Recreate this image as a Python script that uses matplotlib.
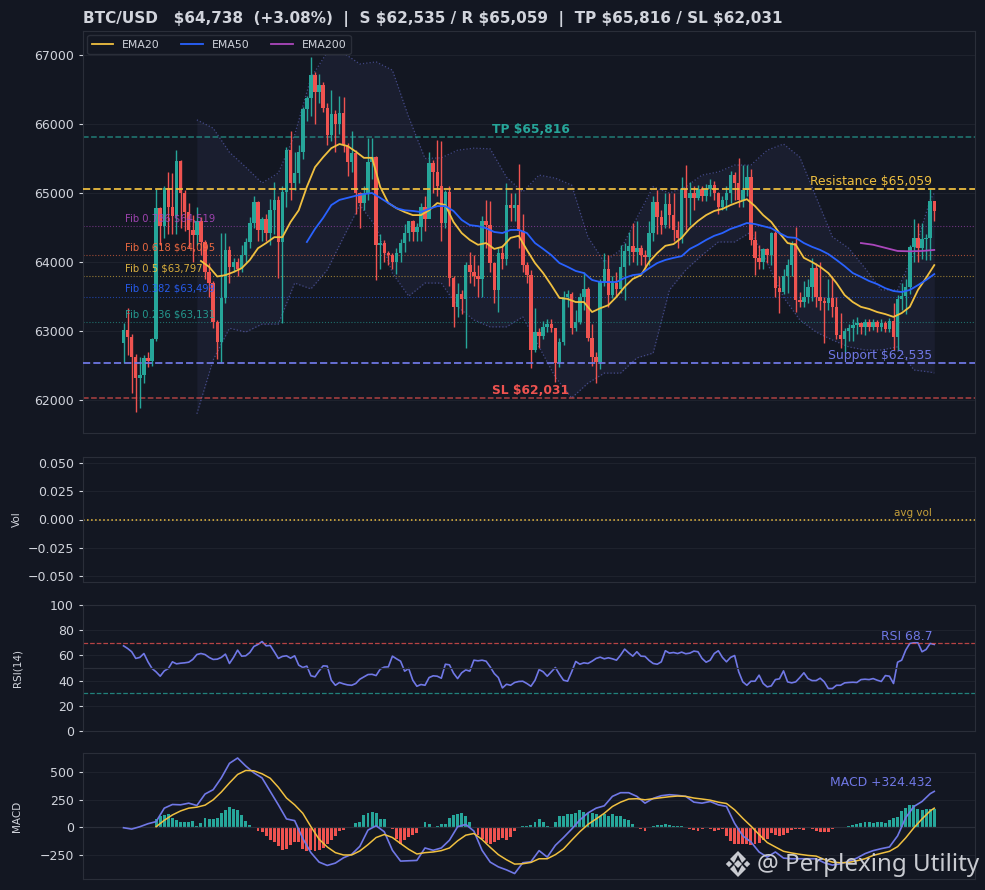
import numpy as np
import matplotlib
matplotlib.use("Agg")
import matplotlib.pyplot as plt
from matplotlib.patches import Polygon

BG = "#131722"
GREEN = "#26a69a"
RED = "#ef5350"
YELLOW = "#f0c040"
BLUE = "#2962ff"
PURPLE = "#ab47bc"
ORANGE = "#ff7043"
INDIGO = "#7078e6"
GRID = "#1e222d"
SPINE = "#2a2e39"
TEXT = "#d1d4dc"

first_open = 62825
closes = [
    63015, 62920, 62623, 62320, 62360, 62610, 62560, 62880, 64780, 64520,
    65070, 64800, 64660, 65460, 65000, 64720, 64460, 64390, 64600, 64290,
    63855, 63695, 63130, 62840, 63480, 64170, 63930, 64000, 63900, 64100,
    64290, 64570, 64870, 64460, 64630, 64420, 64750, 64900, 64290, 65010,
    65620, 65140, 65290, 65590, 66220, 66380, 66710, 66460, 66560, 66230,
    65840, 66150, 66000, 66160, 65700, 65450, 65580, 65000, 64855, 65000,
    65450, 65520, 64250, 64280, 64130, 64100, 64000, 64130, 64270, 64420,
    64590, 64430, 64510, 64800, 64620, 65430, 65300, 65100, 64570, 65010,
    63770, 63350, 63540, 63460, 63960, 63850, 63800, 63750, 64590, 64530,
    63985, 63590, 64130, 64040, 64830, 64780, 64830, 64450, 63960, 63810,
    62725, 62985, 62930, 63060, 63100, 63040, 62535, 62840, 63490, 63535,
    63040, 63130, 63490, 63610, 62900, 62620, 62550, 63710, 63900, 63520,
    63700, 63610, 63930, 64160, 64230, 64140, 64200, 64100, 64070, 64420,
    64870, 64650, 64540, 64840, 64680, 64460, 64350, 65060, 64930, 65000,
    64930, 65060, 64960, 65060, 65120, 65000, 64800, 64900, 65000, 65260,
    65150, 64900, 65050, 65230, 64320, 64060, 64000, 64190, 64100, 64420,
    63620, 63560, 63800, 63950, 64280, 63450, 63420, 63500, 63640, 63915,
    63500, 63440, 63400, 63480, 63350, 62940, 62880, 63000, 63040, 63090,
    63110, 63060, 63130, 63060, 63130, 63060, 63120, 63030, 63150, 62920,
    63460, 63510, 63640, 64220, 64350, 64200, 64330, 64350, 64880, 64738,
]
highs = [
    63110, 63330, 62950, 62660, 62620, 62650, 62700, 62900, 65060, 64800,
    65100, 65300, 65290, 65620, 65480, 65050, 64860, 64680, 64800, 64650,
    64320, 63990, 63720, 63160, 64420, 64420, 64230, 64060, 64060, 64250,
    64350, 64650, 64950, 64880, 64650, 64700, 64920, 65160, 64950, 65100,
    65660, 65900, 65600, 65700, 66240, 66400, 66970, 66760, 66720, 66610,
    66300, 66490, 66200, 66400, 66390, 65720, 65900, 65620, 65020, 65100,
    65800, 65800, 65530, 64400, 64320, 64160, 64130, 64200, 64330, 64550,
    64600, 64610, 64560, 64850, 64960, 65590, 65480, 65770, 65760, 65050,
    65100, 63800, 63700, 63600, 64000, 64140, 64100, 63960, 64660, 64900,
    64880, 64000, 64200, 64250, 65150, 65000, 65000, 65420, 64700, 64000,
    63880, 63330, 63050, 63140, 63180, 63170, 63050, 62900, 63580, 63600,
    63560, 63300, 63550, 63850, 63640, 63100, 62700, 63750, 64130, 64100,
    63800, 63850, 64250, 64280, 64435, 64565, 64590, 64250, 64180, 64600,
    64950, 65040, 64750, 65000, 65000, 65000, 64600, 65230, 65400, 65160,
    65100, 65110, 65100, 65130, 65200, 65180, 65010, 64950, 65100, 65320,
    65300, 65510, 65400, 65400, 65350, 64450, 64250, 64210, 64210, 64430,
    64450, 63800, 63900, 64050, 64310, 64510, 63560, 63720, 63760, 64060,
    63990, 64000, 63500, 63750, 63800, 63500, 63260, 63050, 63100, 63180,
    63200, 63130, 63180, 63170, 63180, 63160, 63170, 63140, 63190, 63400,
    63520, 63700, 63760, 64250, 64625, 64570, 64570, 64400, 65060, 64880,
]
lows = [
    62535, 62650, 62100, 61826, 61884, 62250, 62480, 62500, 62850, 64250,
    64350, 64400, 64400, 64400, 64500, 64450, 64200, 64000, 64250, 64100,
    63750, 63500, 63050, 62600, 62530, 63400, 63700, 63850, 63800, 63850,
    64000, 64200, 64500, 64300, 64300, 64300, 64250, 64400, 63770, 63120,
    64800, 64900, 65050, 65150, 65500, 66050, 66120, 66000, 66300, 66180,
    65700, 65750, 65600, 65850, 65600, 65250, 65300, 64700, 64500, 64750,
    64900, 65200, 63740, 63900, 64000, 63950, 63900, 63820, 64000, 64150,
    64300, 64300, 64300, 64300, 64450, 64650, 65000, 64950, 64300, 64500,
    63650, 63060, 63200, 63250, 62750, 63700, 63650, 63500, 63500, 64200,
    63850, 63400, 63280, 63900, 63950, 64600, 64600, 64200, 63850, 63700,
    62460, 62700, 62750, 62880, 62980, 62980, 62260, 62480, 62800, 63350,
    62950, 63000, 63100, 63300, 62850, 62500, 62250, 62450, 63650, 63350,
    63480, 63500, 63550, 63450, 63950, 64000, 63950, 63950, 63900, 63950,
    64300, 64400, 64400, 64500, 64500, 64300, 64200, 64280, 64460, 64540,
    64750, 64900, 64880, 64880, 64950, 64900, 64700, 64750, 64750, 64850,
    64900, 64800, 64800, 64950, 64250, 63810, 63900, 63900, 63980, 63950,
    63500, 63260, 63540, 63550, 63800, 63280, 63350, 63350, 63400, 63440,
    63350, 63300, 62820, 63300, 63200, 62880, 62760, 62700, 62850, 62860,
    62960, 62950, 62940, 63000, 63020, 62980, 63000, 62980, 62980, 62720,
    62720, 63300, 63250, 63540, 64000, 64000, 64040, 64030, 64030, 64600,
]

ema20_idx = list(range(19, 200, 2))
ema20 = [
    64015, 63930, 63790, 63810, 63855, 63910, 64030, 64200, 64275, 64360,
    64360, 64580, 64750, 65090, 65375, 65520, 65650, 65710, 65680, 65600,
    65510, 65510, 65090, 64855, 64780, 64725, 64680, 64680, 64750, 64855,
    64825, 64580, 64420, 64320, 64250, 64275, 64190, 64220, 64350, 64380,
    64175, 63985, 63840, 63665, 63480, 63465, 63420, 63420, 63275, 63330,
    63375, 63495, 63640, 63755, 63810, 64000, 64130, 64235, 64260, 64350,
    64490, 64595, 64680, 64740, 64770, 64825, 64870, 64910, 64810, 64680,
    64580, 64420, 64275, 64250, 64060, 64000, 63930, 63840, 63695, 63520,
    63420, 63350, 63320, 63275, 63245, 63205, 63260, 63350, 63595, 63770,
    63955,
]
ema50_idx = list(range(45, 200, 2))
ema50 = [
    64290, 64480, 64640, 64825, 64900, 64930, 64960, 64985, 65000, 64930,
    64855, 64780, 64750, 64740, 64725, 64770, 64810, 64810, 64740, 64610,
    64535, 64520, 64490, 64435, 64420, 64465, 64465, 64420, 64275, 64190,
    64100, 63985, 63930, 63870, 63840, 63740, 63710, 63710, 63710, 63770,
    63810, 63825, 63910, 63985, 64030, 64060, 64085, 64190, 64250, 64320,
    64380, 64420, 64480, 64520, 64565, 64550, 64520, 64490, 64420, 64360,
    64350, 64275, 64220, 64175, 64115, 64030, 63940, 63840, 63785, 63725,
    63680, 63620, 63580, 63565, 63595, 63665, 63740, 63825,
]
ema200_idx = [181, 184, 187, 190, 193, 196, 199]
ema200 = [64275, 64250, 64205, 64160, 64155, 64160, 64175]

bb_idx = list(range(18, 199, 4)) + [199]
bb_upper = [
    66060, 65940, 65590, 65375, 65145, 65290, 65840, 66670, 67040, 67030,
    66870, 66900, 66780, 66100, 65500, 65510, 65620, 65650, 65640, 65230,
    65015, 65260, 65215, 65115, 64360, 64000, 64175, 64640, 65090, 65000,
    65090, 65260, 65305, 65405, 65405, 65620, 65710, 65520, 64940, 64365,
    64200, 63910, 63595, 63595, 64130, 64900, 65000,
]
bb_lower = [
    61800, 62580, 63040, 62985, 63100, 63100, 63695, 63610, 63885, 64360,
    64825, 64510, 63840, 63505, 63695, 63695, 63350, 63160, 63060, 63060,
    63205, 62770, 62330, 62030, 62245, 62390, 62390, 62610, 62680, 63595,
    63885, 64100, 64290, 64290, 64435, 63985, 63490, 63160, 62985, 62870,
    62770, 62725, 62725, 62770, 62435, 62405, 62390,
]

support = 62535
resistance = 65059
take_profit = 65816
stop_loss = 62031
fib_labels = ["Fib 0.786 $64,519", "Fib 0.618 $64,095", "Fib 0.5 $63,797", "Fib 0.382 $63,499", "Fib 0.236 $63,131"]
fib_levels = [64519, 64095, 63797, 63499, 63131]

rsi = [
    67.6, 65.5, 62.9, 57.6, 58.4, 61.5, 54.9, 49.6, 46.9, 43.5,
    47.7, 49.6, 54.9, 53.3, 53.8, 54.1, 54.6, 56.8, 60.7, 61.5,
    60.7, 58.4, 56.8, 57.0, 58.4, 61.0, 53.6, 58.4, 64.2, 59.4,
    59.7, 62.3, 67.1, 68.7, 71.0, 67.6, 67.9, 62.9, 57.6, 59.2,
    59.7, 57.8, 59.7, 52.3, 50.4, 51.5, 43.8, 43.0, 47.7, 51.7,
    51.5, 40.3, 36.3, 38.5, 37.4, 36.6, 36.3, 37.7, 41.1, 43.0,
    44.8, 45.0, 44.0, 49.1, 50.7, 50.9, 59.4, 57.3, 55.4, 47.5,
    49.6, 40.3, 35.5, 36.9, 36.3, 42.4, 43.8, 43.5, 41.9, 53.0,
    52.5, 45.9, 41.6, 46.2, 48.5, 47.5, 56.2, 55.7, 56.2, 55.4,
    50.9, 45.6, 42.4, 34.2, 37.1, 36.3, 38.5, 39.3, 39.5, 37.7,
    35.5, 40.3, 48.8, 47.0, 43.5, 47.0, 50.4, 45.0, 40.3, 39.5,
    47.0, 55.2, 53.0, 54.1, 53.6, 55.4, 57.6, 58.6, 57.3, 58.1,
    57.3, 56.2, 60.2, 65.0, 62.0, 59.4, 62.9, 59.4, 59.2, 56.0,
    53.6, 53.0, 54.9, 63.7, 61.8, 62.3, 61.5, 62.6, 61.3, 61.8,
    63.4, 62.9, 57.6, 54.6, 56.2, 61.5, 63.7, 58.4, 54.9, 58.4,
    59.9, 47.0, 39.0, 36.3, 39.5, 39.5, 44.3, 37.7, 35.0, 35.8,
    40.8, 41.4, 47.7, 39.0, 38.2, 39.0, 42.4, 46.2, 41.6, 40.0,
    40.0, 41.9, 39.0, 33.7, 33.7, 36.3, 36.3, 38.2, 38.5, 38.7,
    38.5, 40.8, 41.1, 40.8, 41.6, 40.3, 39.3, 44.0, 43.5, 37.7,
    54.6, 56.2, 64.2, 69.5, 70.0, 70.0, 62.9, 64.7, 69.5, 68.7,
]

macd_idx = list(range(0, 199, 2)) + [199]
macd_line = [
    -3, -15, 6, 33, 52, 173, 206, 203, 218, 197,
    300, 339, 445, 576, 624, 552, 491, 445, 324, 203,
    76, 61, -100, -227, -312, -342, -321, -273, -242, -170,
    -24, 15, -39, -206, -303, -300, -297, -185, -206, -185,
    -115, 6, 27, -33, -206, -312, -355, -382, -415, -318,
    -309, -209, -267, -161, -91, -15, 67, 130, 173, 194,
    279, 312, 312, 279, 218, 261, 285, 294, 288, 279,
    227, 218, 233, 203, 188, 36, -76, -130, -221, -267,
    -221, -276, -282, -282, -282, -282, -318, -339, -327, -306,
    -276, -236, -209, -191, -176, -76, 88, 188, 233, 303,
    324,
]
signal_idx = list(range(8, 199, 2)) + [199]
signal_line = [
    6, 64, 112, 148, 173, 182, 200, 248, 318, 400,
    476, 512, 509, 482, 442, 361, 264, 203, 127, 6,
    -106, -176, -227, -248, -248, -212, -155, -91, -64, -91,
    -145, -197, -239, -227, -221, -209, -185, -121, -70, -55,
    -109, -179, -245, -291, -330, -327, -315, -282, -282, -245,
    -194, -115, -39, 27, 76, 127, 188, 227, 255, 258,
    248, 258, 267, 276, 282, 279, 264, 255, 245, 227,
    215, 158, 82, 12, -64, -136, -176, -215, -230, -242,
    -252, -258, -288, -312, -318, -315, -300, -282, -252, -233,
    -215, -173, -94, -3, 76, 148, 173,
]
hist = [
    76, 103, 112, 121, 82, 67, 45, 45, 45, 58,
    9, 39, 82, 76, 76, 85, 130, 158, 185, 167, 158, 112, 58, 21,
    0,
    -33, -45, -79, -115, -133, -170, -206, -197, -161, -133, -130,
    -197, -215, -206, -215, -206, -185, -145, -115, -76, -33, -21,
    0, 0,
    42, 52, 112, 130, 142, 130, 76, 76,
    -9, -18,
    -100, -145, -115, -85, -64, -48,
    0,
    45, 30,
    0,
    12, 30, 30, 85, 112, 121, 130, 106, 45,
    0,
    -70, -100, -139, -152, -130, -115, -94, -115, -85, -33,
    0,
    12, 12, 21,
    45, 76, 45, 12,
    -9,
    45, 103, 103, 121, 121, 130, 155, 142, 127, 130,
    121, 106, 121, 106, 121, 103, 100, 76, 67, 30,
    0,
    -12, -30,
    0,
    12, 18, 24, 30, 21, 12, 9, 9,
    0,
    -12, -21, -30, -12, -9, -15, -30, -24, -18,
    -76, -121, -148, -152, -148, -148, -161, -152, -136, -115,
    -100, -48, -70, -76, -70, -48, -21,
    -12, -15, -24, -9, -15, -33, -45, -42, -39, -18, -9, -3,
    0,
    9, 18, 27, 39, 48, 48, 42, 48, 48, 42, 67,
    85, 97, 148, 173, 203, 197, 164, 152, 167, 164, 164,
]

title = "BTC/USD   $64,738  (+3.08%)  |  S $62,535 / R $65,059  |  TP $65,816 / SL $62,031"

W, H = 985, 890


def panel(fig, top, bottom):
    ax = fig.add_axes([83 / W, 1 - bottom / H, 892 / W, (bottom - top) / H], facecolor=BG)
    ax.set_xlim(-9.95, 209)
    ax.set_xticks([])
    ax.grid(True, axis="y", color=GRID, linewidth=0.8)
    ax.set_axisbelow(True)
    ax.tick_params(axis="y", colors=TEXT, labelsize=9, length=3, width=0.8)
    for spine in ax.spines.values():
        spine.set_color(SPINE)
    return ax


fig = plt.figure(figsize=(W / 100, H / 100), dpi=100, facecolor=BG)

ax = panel(fig, 31, 433)
ax_vol = panel(fig, 457, 582)
ax_rsi = panel(fig, 605, 731)
ax_macd = panel(fig, 753, 879)

# price panel
x = np.arange(len(closes))
closes_arr = np.array(closes, dtype=float)
opens_arr = np.concatenate([[first_open], closes_arr[:-1]])
up = closes_arr >= opens_arr
colors = np.where(up, GREEN, RED)

ax.fill_between(bb_idx, bb_lower, bb_upper, color="#7b7fe0", alpha=0.07, linewidth=0)
ax.plot(bb_idx, bb_upper, color=INDIGO, linewidth=0.9, linestyle=":", alpha=0.5)
ax.plot(bb_idx, bb_lower, color=INDIGO, linewidth=0.9, linestyle=":", alpha=0.5)

ax.vlines(x, lows, highs, colors=colors, linewidth=1.0, zorder=3)
ax.bar(x, np.abs(closes_arr - opens_arr), bottom=np.minimum(opens_arr, closes_arr),
       width=0.85, color=colors, linewidth=0, zorder=3)

ax.plot(ema20_idx, ema20, color=YELLOW, linewidth=1.3, label="EMA20", zorder=4)
ax.plot(ema50_idx, ema50, color=BLUE, linewidth=1.3, label="EMA50", zorder=4)
ax.plot(ema200_idx, ema200, color=PURPLE, linewidth=1.3, label="EMA200", zorder=4)

ax.axhline(take_profit, color=GREEN, linestyle="--", linewidth=1.1, alpha=0.7)
ax.axhline(stop_loss, color=RED, linestyle="--", linewidth=1.1, alpha=0.7)
ax.axhline(resistance, color=YELLOW, linestyle="--", linewidth=1.4, alpha=0.9, zorder=4)
ax.axhline(support, color=INDIGO, linestyle="--", linewidth=1.4, alpha=0.9, zorder=4)

ax.text(100, take_profit + 15, "TP $65,816", color=GREEN, fontsize=8.8, fontweight="bold", ha="center", va="bottom")
ax.text(100, stop_loss + 15, "SL $62,031", color=RED, fontsize=8.8, fontweight="bold", ha="center", va="bottom")
ax.text(198.5, resistance + 20, "Resistance $65,059", color=YELLOW, fontsize=8.9, ha="right", va="bottom", zorder=5)
ax.text(198.5, support + 20, "Support $62,535", color=INDIGO, fontsize=8.9, ha="right", va="bottom", zorder=5)

fib_colors = [PURPLE, ORANGE, YELLOW, BLUE, GREEN]
for label, level, color in zip(fib_labels, fib_levels, fib_colors):
    ax.axhline(level, color=color, linestyle=":", linewidth=0.8, alpha=0.6)
    ax.text(0.3, level + 40, label, color=color, fontsize=7.2, alpha=0.9, va="bottom", zorder=5)

ax.set_ylim(61522, 67348)
ax.set_yticks([62000, 63000, 64000, 65000, 66000, 67000])
ax.legend(loc="upper left", ncol=3, fontsize=7.8, facecolor=BG, edgecolor=SPINE, labelcolor=TEXT,
          framealpha=1, borderaxespad=0.4, columnspacing=2.0, handlelength=2.0)
ax.set_title(title, loc="left", color=TEXT, fontsize=11, fontweight="bold", pad=6)

# volume panel has no data in the source chart
ax_vol.axhline(0, color=YELLOW, linestyle=":", linewidth=1.1)
ax_vol.text(198.5, 0.001, "avg vol", color=YELLOW, fontsize=7.5, alpha=0.8, ha="right", va="bottom")
ax_vol.set_ylim(-0.055, 0.055)
ax_vol.set_yticks([-0.05, -0.025, 0, 0.025, 0.05])
ax_vol.set_yticklabels(["\u22120.050", "\u22120.025", "0.000", "0.025", "0.050"])
ax_vol.set_ylabel("Vol", color=TEXT, fontsize=7.5)

# rsi panel
ax_rsi.plot(x, rsi, color=INDIGO, linewidth=1.2)
ax_rsi.axhline(70, color=RED, linestyle="--", linewidth=0.9, alpha=0.75)
ax_rsi.axhline(30, color=GREEN, linestyle="--", linewidth=0.9, alpha=0.75)
ax_rsi.axhline(50, color=SPINE, linewidth=0.9)
ax_rsi.text(198.5, 70, "RSI 68.7", color=INDIGO, fontsize=8.9, ha="right", va="bottom")
ax_rsi.set_ylim(0, 100)
ax_rsi.set_yticks([0, 20, 40, 60, 80, 100])
ax_rsi.set_ylabel("RSI(14)", color=TEXT, fontsize=7.5)

# macd panel
hist_x = np.arange(8, 200)
hist_colors = [GREEN if v >= 0 else RED for v in hist]
ax_macd.bar(hist_x, hist, width=0.72, color=hist_colors, linewidth=0)
ax_macd.axhline(0, color=SPINE, linewidth=0.9)
ax_macd.plot(macd_idx, macd_line, color=INDIGO, linewidth=1.2)
ax_macd.plot(signal_idx, signal_line, color=YELLOW, linewidth=1.1)
ax_macd.text(198.5, 345, "MACD +324.432", color=INDIGO, fontsize=8.9, ha="right", va="bottom")
ax_macd.set_ylim(-464, 669)
ax_macd.set_yticks([-250, 0, 250, 500])
ax_macd.set_yticklabels(["\u2212250", "0", "250", "500"])
ax_macd.set_ylabel("MACD", color=TEXT, fontsize=7.5)

for a in (ax_vol, ax_rsi, ax_macd):
    a.yaxis.set_label_coords(-0.068, 0.5)

# watermark
WM = "#c9cbd1"
fig.text(757 / W, 1 - 865 / H, "@ Perplexing Utility", color=WM, fontsize=17.4, family="Noto Sans",
         va="center", ha="left", zorder=20)


def diamond(cx, cy, r):
    pts = [(cx - r, cy), (cx, cy - r), (cx + r, cy), (cx, cy + r)]
    return [(px / W, 1 - py / H) for px, py in pts]


def chevron(cx, cy, r, t, sign):
    pts = [(cx - r, cy + sign * r), (cx, cy), (cx + r, cy + sign * r),
           (cx + r - t, cy + sign * (r + t)), (cx, cy + sign * t), (cx - r + t, cy + sign * (r + t))]
    return [(px / W, 1 - py / H) for px, py in pts]


icon_shapes = [
    diamond(738, 864, 4),
    diamond(729, 864, 3.2),
    diamond(747, 864, 3.2),
    chevron(738, 851, 8, 4, 1),
    chevron(738, 877, 8, 4, -1),
]
for shape in icon_shapes:
    fig.add_artist(Polygon(shape, closed=True, transform=fig.transFigure, facecolor=WM, edgecolor="none", zorder=20))

plt.savefig("out.png", dpi=100, facecolor=BG)
plt.close()
